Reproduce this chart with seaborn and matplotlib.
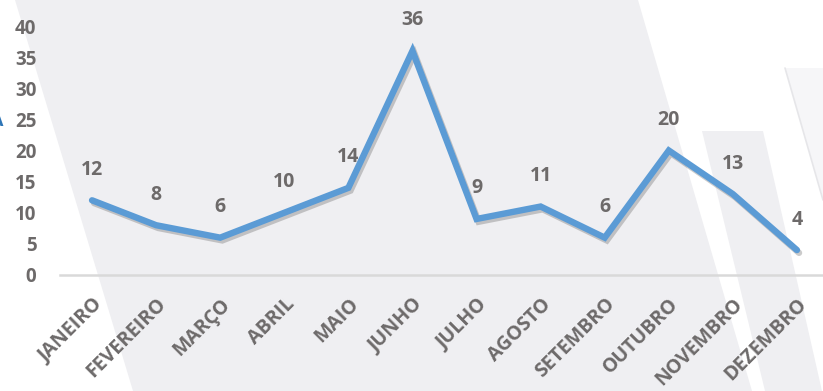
import matplotlib
matplotlib.use("Agg")
import matplotlib.pyplot as plt
import matplotlib.patheffects as pe
from matplotlib.patches import Polygon
import seaborn as sns
import pandas as pd

months = ["JANEIRO", "FEVEREIRO", "MARÇO", "ABRIL", "MAIO", "JUNHO",
          "JULHO", "AGOSTO", "SETEMBRO", "OUTUBRO", "NOVEMBRO", "DEZEMBRO"]
values = [12, 8, 6, 10, 14, 36, 9, 11, 6, 20, 13, 4]
y_ticks = [0, 5, 10, 15, 20, 25, 30, 35, 40]

sns.set_theme(style="white")
plt.rcParams["font.family"] = ["Open Sans", "DejaVu Sans"]

W, H = 823, 391
fig = plt.figure(figsize=(W / 100, H / 100), dpi=100)
fig.patch.set_facecolor("white")

def px(x, y):
    return (x / W, 1 - y / H)

# background decorative shapes
shapes = [
    ([(15, 0), (638, 0), (752, 391), (133, 391)], "#EFEFF2"),
    ([(702, 131), (763, 131), (822, 391), (765, 391)], "#EFEFF2"),
    ([(785, 68), (900, 68), (900, 391), (880, 391)], "#F6F6F8"),
]
for pts, col in shapes:
    fig.add_artist(Polygon([px(*p) for p in pts], closed=True,
                           transform=fig.transFigure, facecolor=col,
                           edgecolor="none", zorder=0))
fig.add_artist(plt.Line2D([785 / W, 823 / W], [1 - 68 / H, 1 - 200 / H],
                          transform=fig.transFigure, color="#E6E6E9",
                          lw=1.2, zorder=0))

ax_left, ax_right = 60, 829
ax_top, ax_bottom = 26, 275
ax = fig.add_axes([ax_left / W, (H - ax_bottom) / H,
                   (ax_right - ax_left) / W, (ax_bottom - ax_top) / H])
ax.set_facecolor("none")

df = pd.DataFrame({"mes": range(len(months)), "valor": values})
sns.lineplot(data=df, x="mes", y="valor", ax=ax, color="#5B9BD5",
             linewidth=4.6, solid_joinstyle="miter", solid_capstyle="round",
             path_effects=[pe.SimpleLineShadow(offset=(1.5, -2), shadow_color="#555555", alpha=0.3),
                           pe.Normal()], zorder=3)

txt_color = "#6D6A6A"
for i, v in enumerate(values):
    ax.annotate(str(v), (i, v), xytext=(0, 22), textcoords="offset points",
                ha="center", va="center", fontsize=14, fontweight="bold",
                color=txt_color, annotation_clip=False, zorder=4)

ax.set_xlim(-0.5, len(months) - 0.5)
ax.set_ylim(0, 40)
ax.set_xticks(range(len(months)))
ax.set_xticklabels(months, rotation=45, ha="right", rotation_mode="anchor",
                   fontsize=14, fontweight="bold", color=txt_color)
ax.set_yticks(y_ticks)
ax.set_yticklabels([str(t) for t in y_ticks], fontsize=13.5,
                   fontweight="bold", color=txt_color)
ax.tick_params(axis="x", length=0, pad=14)
ax.tick_params(axis="y", length=0, pad=17)
ax.set_xlabel("")
ax.set_ylabel("")
for s in ["top", "right", "left"]:
    ax.spines[s].set_visible(False)
ax.spines["bottom"].set_color("#D9D9D9")
ax.spines["bottom"].set_linewidth(1.8)
ax.grid(False)

fig.text(3 / W, 1 - 121 / H, "A", color="#2E75B6", fontsize=13,
         fontweight="bold", ha="right", va="center")

fig.savefig("out.png", dpi=100)
